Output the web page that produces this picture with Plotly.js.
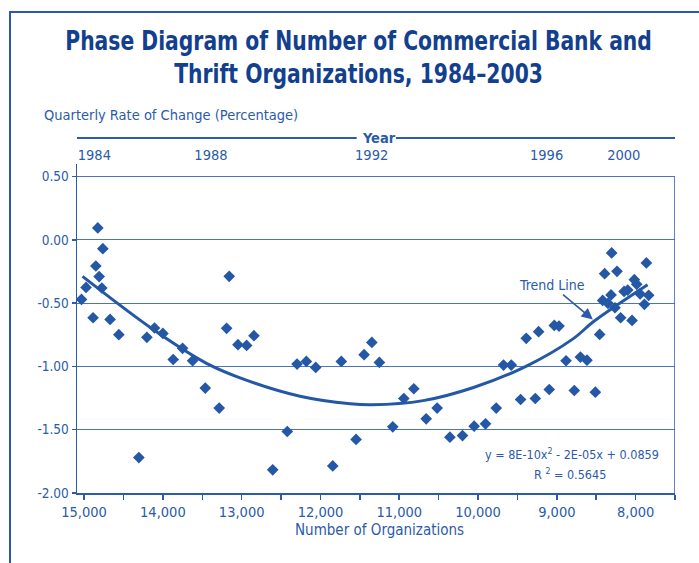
<!DOCTYPE html>
<html>
<head>
<meta charset="utf-8">
<script src="https://cdn.plot.ly/plotly-3.0.1.min.js"></script>
<style>
html,body{margin:0;padding:0;overflow:hidden;background:#fff;}
#chart{width:699px;height:563px;}
#frame{position:absolute;left:9px;top:11px;width:800px;height:800px;border:2px solid #2a5aa8;pointer-events:none;}
</style>
</head>
<body>
<div id="chart"></div>
<div id="frame"></div>
<script>
// Number of organizations (x) and quarterly rate of change in % (y)
const orgs = [15033, 14975, 14886, 14851, 14826, 14809, 14775, 14762, 14670, 14559,
  14305, 14203, 14106, 14000, 13869, 13750, 13623, 13462, 13285, 13191,
  13158, 13047, 12937, 12844, 12606, 12421, 12297, 12179, 12060, 11844,
  11735, 11548, 11446, 11348, 11252, 11082, 10942, 10815, 10658, 10519,
  10357, 10197, 10049, 9905, 9769, 9676, 9578, 9460, 9388, 9273,
  9231, 9096, 9032, 8972, 8883, 8778, 8701, 8617, 8511, 8456,
  8418, 8393, 8350, 8312, 8304, 8262, 8236, 8190, 8146, 8100,
  8045, 8016, 7986, 7943, 7888, 7863, 7834];
const rates = [-0.47, -0.375, -0.615, -0.206, 0.095, -0.29, -0.38, -0.069, -0.628, -0.749,
  -1.72, -0.77, -0.696, -0.739, -0.945, -0.857, -0.955, -1.171, -1.329, -0.699,
  -0.288, -0.828, -0.834, -0.757, -1.817, -1.514, -0.981, -0.96, -1.008, -1.786,
  -0.96, -1.577, -0.907, -0.81, -0.968, -1.477, -1.253, -1.176, -1.414, -1.329,
  -1.559, -1.546, -1.472, -1.453, -1.329, -0.989, -0.989, -1.261, -0.778, -1.253,
  -0.725, -1.182, -0.676, -0.681, -0.955, -1.19, -0.926, -0.95, -1.203, -0.747,
  -0.478, -0.267, -0.501, -0.435, -0.103, -0.536, -0.248, -0.615, -0.407, -0.396,
  -0.636, -0.314, -0.351, -0.427, -0.509, -0.182, -0.438];

// Trend line
const trendOrgs = [15020, 14118, 13446, 12933, 12259, 11624, 11350, 10697, 10057, 9379, 8790, 8533, 7848];
const trendRates = [-0.288, -0.71, -0.975, -1.11, -1.235, -1.295, -1.303, -1.27, -1.166, -0.995, -0.78, -0.645, -0.354];

// Y tick labels
const yTickVals = [0.5, 0, -0.5, -1, -1.5, -2];
const yTickText = ['0.50', '0.00', '-0.50', '-1.00', '-1.50', '-2.00'];

// Top "Year" axis labels and positions on the organizations scale
const yearLabels = ['1984', '1988', '1992', '1996', '2000'];
const yearPositions = [14870, 13390, 11350, 9130, 8150];

const FONT = '"Liberation Sans Narrow", "DejaVu Sans Condensed", "Arial Narrow", sans-serif';
const BLUE = '#2b5ba9';
const TITLE = '#12408f';
const XR = [15090, 7500];

const traces = [
  {
    x: orgs, y: rates, type: 'scatter', mode: 'markers',
    marker: {symbol: 'diamond', size: 9, color: '#2458a6'},
    hoverinfo: 'x+y', showlegend: false
  },
  {
    x: trendOrgs, y: trendRates, type: 'scatter', mode: 'lines',
    line: {color: '#2458a6', width: 3, shape: 'spline', smoothing: 1},
    hoverinfo: 'skip', showlegend: false
  },
  {
    x: yearPositions, y: yearPositions.map(() => null), xaxis: 'x2', type: 'scatter',
    mode: 'markers', showlegend: false, hoverinfo: 'skip'
  }
];

const layout = {
  width: 699, height: 563,
  margin: {l: 77, r: 24, t: 164, b: 70},
  paper_bgcolor: '#fff', plot_bgcolor: '#fff',
  font: {family: FONT, color: BLUE, size: 13},
  title: {
    text: 'Phase Diagram of Number of Commercial Bank and<br>Thrift Organizations, 1984–2003',
    font: {family: FONT, size: 26, color: TITLE, weight: 'bold'},
    x: 0.513, xanchor: 'center', xref: 'container',
    y: 0.912, yanchor: 'middle', yref: 'container'
  },
  xaxis: {
    range: XR, tickmode: 'linear', tick0: 15000, dtick: 1000, tickformat: ',d',
    ticks: 'outside', ticklen: 5, tickcolor: BLUE, tickwidth: 1.5,
    minor: {dtick: 500, tick0: 15000, ticks: 'outside', ticklen: 5, tickcolor: BLUE, tickwidth: 1.5, showgrid: false},
    showline: true, linecolor: BLUE, linewidth: 2, showgrid: false, zeroline: false,
    tickfont: {family: FONT, size: 14.5, color: BLUE}
  },
  xaxis2: {
    range: XR, overlaying: 'x', side: 'top', tickmode: 'array',
    tickvals: yearPositions, ticktext: yearLabels, ticks: '', showline: false,
    showgrid: false, zeroline: false,
    tickfont: {family: FONT, size: 14.5, color: BLUE}
  },
  yaxis: {
    range: [-2, 0.6], tickmode: 'array', tickvals: yTickVals, ticktext: yTickText,
    ticks: 'outside', ticklen: 4, tickcolor: BLUE, tickwidth: 1.5,
    showline: true, linecolor: BLUE, linewidth: 1.5,
    showgrid: true, gridcolor: '#4c74ba', gridwidth: 1, zeroline: false,
    tickfont: {family: FONT, size: 13.5, color: BLUE}
  },
  shapes: [
    {type: 'line', xref: 'x', yref: 'y', x0: 7500, x1: 7500, y0: -2, y1: 0.5, line: {color: BLUE, width: 1.5}},
    {type: 'line', xref: 'paper', yref: 'paper', x0: 0, x1: 0.4677, y0: 1.079, y1: 1.079, line: {color: BLUE, width: 2}},
    {type: 'line', xref: 'paper', yref: 'paper', x0: 0.5334, x1: 1, y0: 1.079, y1: 1.079, line: {color: BLUE, width: 2}}
  ],
  annotations: [
    {text: '<b>Year</b>', xref: 'paper', yref: 'paper', x: 0.505, y: 1.079, xanchor: 'center', yanchor: 'middle',
     showarrow: false, font: {family: FONT, size: 14.5, color: BLUE}},
    {text: 'Quarterly Rate of Change (Percentage)', xref: 'paper', yref: 'paper', x: -0.0585, y: 1.149,
     xanchor: 'left', yanchor: 'middle', showarrow: false, font: {family: FONT, size: 14.5, color: BLUE}},
    {text: 'Number of Organizations', xref: 'paper', yref: 'paper', x: 0.506, y: -0.1135,
     xanchor: 'center', yanchor: 'middle', showarrow: false, font: {family: FONT, size: 15, color: BLUE}},
    {text: 'Trend Line', xref: 'x', yref: 'y', x: 8533, y: -0.633, ax: -42, ay: -35, standoff: 1,
     showarrow: true, arrowhead: 2, arrowsize: 1.4, arrowwidth: 1.6, arrowcolor: BLUE,
     font: {family: FONT, size: 14, color: BLUE}},
    {text: 'y = 8E-10x<sup>2</sup> - 2E-05x + 0.0859', xref: 'paper', yref: 'paper', x: 0.827, y: 0.1177,
     xanchor: 'center', yanchor: 'middle', showarrow: false, font: {family: FONT, size: 12.5, color: BLUE}},
    {text: 'R <sup>2</sup> = 0.5645', xref: 'paper', yref: 'paper', x: 0.824, y: 0.059,
     xanchor: 'center', yanchor: 'middle', showarrow: false, font: {family: FONT, size: 12.5, color: BLUE}}
  ]
};

Plotly.newPlot('chart', traces, layout, {displayModeBar: false, staticPlot: true}).then(() => {
  // Condense the title horizontally to match the narrow typeface of the reference
  const t = document.querySelector('.gtitle');
  if (t) {
    const bb = t.getBBox();
    const target = 587;
    const s = Math.min(1, target / bb.width);
    const cx = bb.x + bb.width / 2;
    t.setAttribute('transform', `translate(${cx},0) scale(${s},1) translate(${-cx},0)`);
  }
});
</script>
</body>
</html>
